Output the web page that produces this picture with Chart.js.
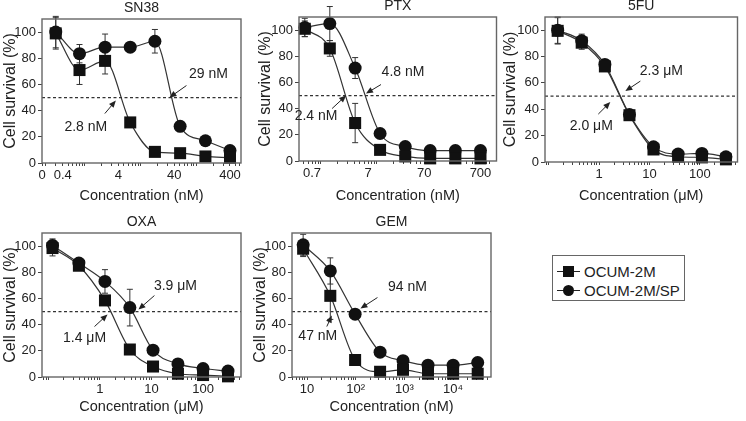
<!DOCTYPE html>
<html>
<head>
<meta charset="utf-8">
<script src="https://cdn.jsdelivr.net/npm/chart.js@4"></script>
<style>
body { margin: 0; background: #fff; width: 746px; height: 421px; position: relative; overflow: hidden; font-family: "Liberation Sans", Arial, sans-serif; color: #222; }
.panel { position: absolute; }
#legend { position: absolute; left: 552px; top: 255px; width: 133px; height: 46px; border: 1px solid #666; padding-top: 6px; box-sizing: border-box; }
#legend .row { height: 19px; line-height: 19px; font-size: 15px; position: relative; padding-left: 31px; white-space: nowrap; }
#legend .line { position: absolute; left: 4px; top: 9px; width: 23px; height: 1px; background: #222; }
#legend .mk { position: absolute; left: 10px; top: 4px; width: 11px; height: 11px; background: #111; }
#legend .mk.circle { border-radius: 50%; }
</style>
</head>
<body>
<div class="panel" style="left:0;top:0;width:250px;height:210px"><canvas id="sn38"></canvas></div>
<div class="panel" style="left:255px;top:0;width:250px;height:210px"><canvas id="ptx"></canvas></div>
<div class="panel" style="left:500px;top:0;width:246px;height:210px"><canvas id="fu"></canvas></div>
<div class="panel" style="left:0;top:212px;width:250px;height:209px"><canvas id="oxa"></canvas></div>
<div class="panel" style="left:250px;top:212px;width:250px;height:209px"><canvas id="gem"></canvas></div>
<div id="legend"></div>
<script>
const seriesNames = ['OCUM-2M', 'OCUM-2M/SP'];
const yTicks = [0, 20, 40, 60, 80, 100];

// SN38 (nM)
const sn38Conc = [0.3, 0.8, 2.3, 6.5, 18, 51, 145, 400];
const sn38Parent = [99, 71, 78, 31, 8.5, 7.5, 5, 4];
const sn38ParentErr = [12, 11, 10, 2, 1, 1, 1, 1];
const sn38Sp = [100, 83.5, 88.5, 88.5, 93, 28, 17, 9.5];
const sn38SpErr = [12, 7, 10, 3, 9, 2, 2, 2];
const sn38Ic50 = [2.8, 29];
const sn38Ic50Labels = ['2.8 nM', '29 nM'];
const sn38Ticks = [0.17, 0.4, 4, 40, 400];
const sn38TickLabels = ['0', '0.4', '4', '40', '400'];

// PTX (nM)
const ptxConc = [0.52, 1.45, 4.1, 11.4, 32, 89, 250, 700];
const ptxParent = [101, 86, 29, 8.5, 3.5, 2, 2, 2];
const ptxParentErr = [6, 6, 15, 2, 1, 1, 1, 1];
const ptxSp = [102, 105, 71, 21, 11, 8, 8, 8];
const ptxSpErr = [7, 13, 8, 2, 1, 1, 1, 1];
const ptxIc50 = [2.4, 4.8];
const ptxIc50Labels = ['2.4 nM', '4.8 nM'];
const ptxTicks = [0.7, 7, 70, 700];
const ptxTickLabels = ['0.7', '7', '70', '700'];

// 5FU (μM)
const fuConc = [0.15, 0.45, 1.3, 4, 12, 37, 110, 330];
const fuParent = [99.5, 90.5, 72.5, 35.5, 9.5, 4, 3.5, 2];
const fuParentErr = [10, 5, 3, 2, 1, 1, 1, 1];
const fuSp = [100, 92, 74, 36, 11.5, 6, 6.5, 4];
const fuSpErr = [10, 5, 3, 2, 1, 1, 1, 1];
const fuIc50 = [2.0, 2.3];
const fuIc50Labels = ['2.0 μM', '2.3 μM'];
const fuTicks = [1, 10, 100];
const fuTickLabels = ['1', '10', '100'];

// OXA (μM)
const oxaConc = [0.12, 0.39, 1.25, 3.8, 10.7, 32.6, 100, 305];
const oxaParent = [98.5, 85, 58.5, 21, 8, 2.5, 1.5, 0.5];
const oxaParentErr = [6, 3, 3, 2, 1, 1, 1, 1];
const oxaSp = [100.5, 87, 73, 53, 20.5, 10, 6.5, 4.5];
const oxaSpErr = [5, 3, 9, 14, 2, 1, 1, 1];
const oxaIc50 = [1.4, 3.9];
const oxaIc50Labels = ['1.4 μM', '3.9 μM'];
const oxaTicks = [1, 10, 100];
const oxaTickLabels = ['1', '10', '100'];

// GEM (nM)
const gemConc = [8.3, 30, 97, 316, 935, 3050, 10000, 32000];
const gemParent = [98, 62, 13, 4, 5.5, 2.5, 2.5, 2.5];
const gemParentErr = [6, 18, 2, 1, 1, 1, 1, 1];
const gemSp = [101, 81, 48, 19, 12.5, 9, 9, 11];
const gemSpErr = [8, 10, 3, 2, 1, 1, 1, 1];
const gemIc50 = [47, 94];
const gemIc50Labels = ['47 nM', '94 nM'];
const gemTicks = [10, 100, 1000, 10000];
const gemTickLabels = ['10', '10²', '10³', '10⁴'];

const FONT = '"Liberation Sans", Arial, sans-serif';
const INK = '#222';

// pixel offsets of the IC50 arrows, relative to the (IC50, 50 %) point
const arrowLayout = {
    sn38: [{ tip: [6, 3], tail: [-5, 16], text: [-24, 30] }, { tip: [3, 0], tail: [20, -12], text: [42, -23] }],
    ptx: [{ tip: [4, 0], tail: [-10, 13], text: [-26, 21] }, { tip: [7, -2], tail: [22, -11], text: [44, -23] }],
    fu: [{ tip: [-4, 6], tail: [-16, 18], text: [-23, 30] }, { tip: [8, -5], tail: [23, -15], text: [44, -25] }],
    oxa: [{ tip: [0, 3], tail: [-13, 15], text: [-23, 27] }, { tip: [8, -2], tail: [24, -16], text: [45, -25] }],
    gem: [{ tip: [-8, 4], tail: [-13, 15], text: [-22, 25] }, { tip: [6, -3], tail: [23, -14], text: [53, -24] }]
};

const panelDecor = {
    id: 'panelDecor',
    beforeDatasetsDraw(chart) {
        const { ctx, chartArea: a, scales: { x, y } } = chart;
        ctx.save();
        // 50 % reference line
        const y50 = y.getPixelForValue(50);
        ctx.setLineDash([3, 2.5]);
        ctx.strokeStyle = '#333';
        ctx.lineWidth = 1.2;
        ctx.beginPath();
        ctx.moveTo(a.left, y50);
        ctx.lineTo(a.right, y50);
        ctx.stroke();
        ctx.setLineDash([]);
        // error bars
        ctx.strokeStyle = '#333';
        ctx.lineWidth = 1;
        chart.data.datasets.forEach(ds => {
            if (!ds.errors) return;
            ds.data.forEach((p, j) => {
                const e = ds.errors[j];
                const px = x.getPixelForValue(p.x);
                const top = y.getPixelForValue(p.y + e);
                const bot = y.getPixelForValue(p.y - e);
                ctx.beginPath();
                ctx.moveTo(px, top); ctx.lineTo(px, bot);
                ctx.moveTo(px - 3, top); ctx.lineTo(px + 3, top);
                ctx.moveTo(px - 3, bot); ctx.lineTo(px + 3, bot);
                ctx.stroke();
            });
        });
        ctx.restore();
    },
    afterDatasetsDraw(chart, args, opts) {
        const { ctx, chartArea: a, scales: { x, y } } = chart;
        ctx.save();
        ctx.strokeStyle = '#666';
        ctx.lineWidth = 1.4;
        ctx.strokeRect(a.left, a.top, a.right - a.left, a.bottom - a.top);
        // panel title
        ctx.fillStyle = INK;
        ctx.font = '14px ' + FONT;
        ctx.textAlign = 'center';
        ctx.textBaseline = 'middle';
        ctx.fillText(opts.title, (a.left + a.right) / 2, a.top - 11);
        // IC50 arrows
        ctx.font = '14px ' + FONT;
        opts.ic50.forEach((v, i) => {
            const lay = opts.layout[i];
            const bx = x.getPixelForValue(v);
            const by = y.getPixelForValue(50);
            const tx = bx + lay.tip[0], ty = by + lay.tip[1];
            const sx = bx + lay.tail[0], sy = by + lay.tail[1];
            const ang = Math.atan2(ty - sy, tx - sx);
            ctx.strokeStyle = INK;
            ctx.lineWidth = 1;
            ctx.beginPath();
            ctx.moveTo(sx, sy);
            ctx.lineTo(tx - 5 * Math.cos(ang), ty - 5 * Math.sin(ang));
            ctx.stroke();
            ctx.beginPath();
            ctx.moveTo(tx, ty);
            ctx.lineTo(tx - 7 * Math.cos(ang) + 3 * Math.sin(ang), ty - 7 * Math.sin(ang) - 3 * Math.cos(ang));
            ctx.lineTo(tx - 7 * Math.cos(ang) - 3 * Math.sin(ang), ty - 7 * Math.sin(ang) + 3 * Math.cos(ang));
            ctx.closePath();
            ctx.fill();
            ctx.fillText(opts.labels[i], bx + lay.text[0], by + lay.text[1]);
        });
        ctx.restore();
    }
};

function logTicks(min, max, major) {
    const out = major.slice();
    for (let k = Math.floor(Math.log10(min)); k <= Math.ceil(Math.log10(max)); k++) {
        for (let m = 1; m <= 9; m++) {
            const v = m * Math.pow(10, k);
            if (v > min && v < max && !major.some(t => Math.abs(t - v) / v < 1e-6)) out.push(v);
        }
    }
    return out.sort((a, b) => a - b).map(v => ({ value: v }));
}

function makePanel(id, p) {
    const labelOf = new Map(p.ticks.map((t, i) => [t, p.tickLabels[i]]));
    const series = (vals, errs) => ({ data: p.conc.map((c, i) => ({ x: c, y: vals[i] })), errors: errs });
    new Chart(document.getElementById(id), {
        type: 'line',
        data: {
            datasets: [
                Object.assign(series(p.parent, p.parentErr), {
                    label: seriesNames[0], pointStyle: 'rect', pointRadius: 8.5,
                    backgroundColor: '#111', borderColor: '#333', pointBorderColor: '#111',
                    borderWidth: 1.2, pointBorderWidth: 0, cubicInterpolationMode: 'monotone', clip: false
                }),
                Object.assign(series(p.sp, p.spErr), {
                    label: seriesNames[1], pointStyle: 'circle', pointRadius: 6.5,
                    backgroundColor: '#111', borderColor: '#333', pointBorderColor: '#111',
                    borderWidth: 1.2, pointBorderWidth: 0, cubicInterpolationMode: 'monotone', clip: false
                })
            ]
        },
        options: {
            responsive: true,
            maintainAspectRatio: false,
            animation: false,
            layout: { padding: { top: p.top, right: p.right, left: 0, bottom: 0 } },
            plugins: {
                legend: { display: false },
                tooltip: { enabled: false },
                panelDecor: { title: p.title, ic50: p.ic50, labels: p.ic50Labels, layout: p.layout }
            },
            scales: {
                x: {
                    type: 'logarithmic',
                    min: p.xMin,
                    max: p.xMax,
                    afterBuildTicks: s => { s.ticks = logTicks(p.xMin, p.xMax, p.ticks); },
                    afterFit: s => { s.height = p.bottom; },
                    ticks: {
                        autoSkip: false, maxRotation: 0, padding: 2, color: INK,
                        font: { family: FONT, size: 13 },
                        callback: v => labelOf.has(v) ? labelOf.get(v) : ''
                    },
                    grid: { drawOnChartArea: false, tickLength: 3, color: '#444', tickColor: '#444' },
                    border: { display: false },
                    title: { display: true, text: p.xTitle, color: INK, font: { family: FONT, size: 14.5 }, padding: { top: 0, bottom: 5 } }
                },
                y: {
                    min: 0,
                    max: 110,
                    afterBuildTicks: s => { s.ticks = yTicks.map(v => ({ value: v })); },
                    afterFit: s => { s.width = p.left; },
                    ticks: { padding: 2, color: INK, font: { family: FONT, size: 13 } },
                    grid: { drawOnChartArea: false, tickLength: 4, color: '#444', tickColor: '#444' },
                    border: { display: false },
                    title: { display: true, text: 'Cell survival (%)', color: INK, font: { family: FONT, size: 16 }, padding: { top: 1, bottom: 0 } }
                }
            }
        },
        plugins: [panelDecor]
    });
}

makePanel('sn38', {
    title: 'SN38', xTitle: 'Concentration (nM)', conc: sn38Conc,
    parent: sn38Parent, parentErr: sn38ParentErr, sp: sn38Sp, spErr: sn38SpErr,
    ic50: sn38Ic50, ic50Labels: sn38Ic50Labels, ticks: sn38Ticks, tickLabels: sn38TickLabels,
    xMin: 0.17, xMax: 630, left: 42, right: 9, top: 19, bottom: 47, layout: arrowLayout.sn38
});
makePanel('ptx', {
    title: 'PTX', xTitle: 'Concentration (nM)', conc: ptxConc,
    parent: ptxParent, parentErr: ptxParentErr, sp: ptxSp, spErr: ptxSpErr,
    ic50: ptxIc50, ic50Labels: ptxIc50Labels, ticks: ptxTicks, tickLabels: ptxTickLabels,
    xMin: 0.41, xMax: 1350, left: 44, right: 7, top: 17, bottom: 49, layout: arrowLayout.ptx
});
makePanel('fu', {
    title: '5FU', xTitle: 'Concentration (μM)', conc: fuConc,
    parent: fuParent, parentErr: fuParentErr, sp: fuSp, spErr: fuSpErr,
    ic50: fuIc50, ic50Labels: fuIc50Labels, ticks: fuTicks, tickLabels: fuTickLabels,
    xMin: 0.084, xMax: 560, left: 45, right: 2, top: 17, bottom: 48, layout: arrowLayout.fu
});
makePanel('oxa', {
    title: 'OXA', xTitle: 'Concentration (μM)', conc: oxaConc,
    parent: oxaParent, parentErr: oxaParentErr, sp: oxaSp, spErr: oxaSpErr,
    ic50: oxaIc50, ic50Labels: oxaIc50Labels, ticks: oxaTicks, tickLabels: oxaTickLabels,
    xMin: 0.075, xMax: 545, left: 42, right: 9, top: 21, bottom: 44, layout: arrowLayout.oxa
});
makePanel('gem', {
    title: 'GEM', xTitle: 'Concentration (nM)', conc: gemConc,
    parent: gemParent, parentErr: gemParentErr, sp: gemSp, spErr: gemSpErr,
    ic50: gemIc50, ic50Labels: gemIc50Labels, ticks: gemTicks, tickLabels: gemTickLabels,
    xMin: 4.9, xMax: 60000, left: 42, right: 9, top: 21, bottom: 44, layout: arrowLayout.gem
});

// legend
const legend = document.getElementById('legend');
seriesNames.forEach((name, i) => {
    const row = document.createElement('div');
    row.className = 'row';
    row.innerHTML = `<span class="line"></span><span class="mk${i ? ' circle' : ''}"></span>${name}`;
    legend.appendChild(row);
});
</script>
</body>
</html>
